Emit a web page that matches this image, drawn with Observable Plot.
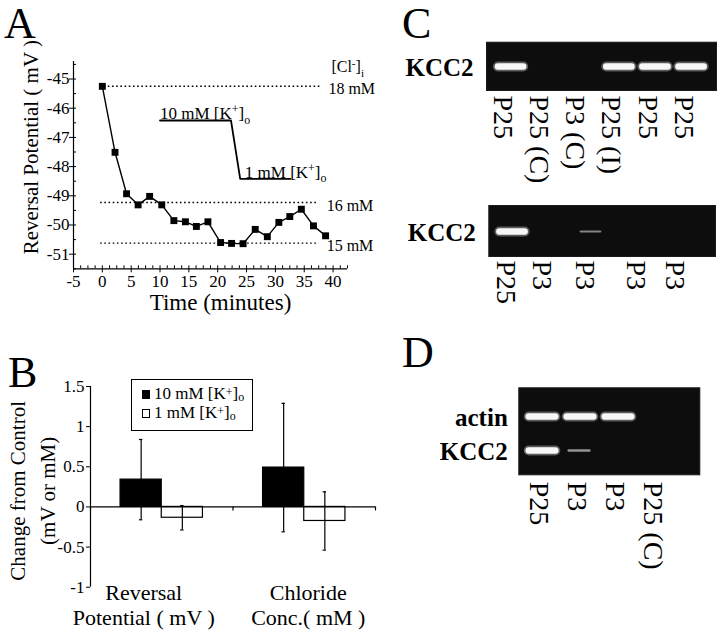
<!DOCTYPE html>
<html><head><meta charset="utf-8">
<script src="https://cdn.jsdelivr.net/npm/d3@7"></script>
<script src="https://cdn.jsdelivr.net/npm/@observablehq/plot@0.6"></script>
<style>
html,body{margin:0;padding:0;background:#fff;}
#fig{position:relative;width:720px;height:635px;overflow:hidden;font-family:"Liberation Serif","Times New Roman",serif;color:#000;background:#fff;}
.letter{position:absolute;font-size:44px;line-height:44px;}
.legend{position:absolute;left:131px;top:379px;width:122px;height:52px;border:1px solid #000;box-sizing:border-box;font-size:17px;line-height:19px;padding:4px 0 0 10px;background:#fff;white-space:nowrap;}
.sw{display:inline-block;width:8px;height:9px;margin-right:4px;box-sizing:border-box;border:1px solid #000;vertical-align:0px;}
.legend sup,.legend sub{font-size:70%;line-height:0;}
.legend sup{vertical-align:3.5px;}
.legend sub{vertical-align:-2px;}
</style></head><body><div id="fig"></div>
<script>
// ---------- Panel A data ----------
const timeMin    = [0, 2.2, 4.2, 6.2, 8.2, 10.3, 12.4, 14.4, 16.3, 18.3, 20.5, 22.4, 24.4, 26.5, 28.6, 30.6, 32.5, 34.5, 36.6, 38.7];
const reversalMv = [-45.25, -47.51, -48.93, -49.31, -49.02, -49.31, -49.85, -49.89, -50.05, -49.89, -50.6, -50.63, -50.64, -50.15, -50.4, -49.91, -49.71, -49.46, -50.03, -50.37];
const clLabels = ["18 mM", "16 mM", "15 mM"];
const clLevels = [-45.25, -49.23, -50.62];
const clStart  = [0.3, -0.3, -0.3];
const clEnd    = [37.8, 37.5, 37.5];
const clHeader = "[Cl^{-}]_{i}";
const kTime  = [10, 22.3, 23.9, 32.6];
const kLevel = [-46.42, -46.42, -48.42, -48.42];
const kLabels     = ["10 mM [K^{+}]_{o}", "1 mM [K^{+}]_{o}"];
const kLabelTime  = [10, 24.7];
const kLabelLevel = [-46.42, -48.42];
const xTicksA = [-5, 0, 5, 10, 15, 20, 25, 30, 35, 40];
const yTicksA = [-51, -50, -49, -48, -47, -46, -45];

// ---------- Panel B data ----------
const groups   = ["Reversal\nPotential ( mV )", "Chloride\nConc.( mM )"];
const seriesB  = ["10 mM [K+]o", "1 mM [K+]o"];
const mean10   = [0.34, 0.49];
const err10    = [0.50, 0.80];
const mean1    = [-0.135, -0.175];
const err1     = [0.152, 0.363];
const yTicksB  = [-1, -0.5, 0, 0.5, 1, 1.5];

// ---------- Panel C / D data (gels) ----------
const c1Labels = ["P25", "P25 (C)", "P3 (C)", "P25 (I)", "P25", "P25"];
const c1Lanes  = [1, 2, 3, 4, 5, 6];
const c1KCC2   = [1, 0, 0, 1, 1, 1];
const c2Labels = ["P25", "P3", "P3", "P3", "P3"];
const c2Lanes  = [1, 2, 3.2, 4.6, 5.7];
const c2KCC2   = [1, 0, 0.3, 0, 0];
const dLabels  = ["P25", "P3", "P3", "P25 (C)"];
const dLanes   = [1, 2, 3, 4];
const dActin   = [1, 1, 1, 0];
const dKCC2    = [1, 0.4, 0, 0];

// ---------- helpers ----------
const fig = document.getElementById("fig");
const FONT = '"Liberation Serif","Times New Roman",serif';
const baseStyle = {fontFamily: FONT, fontSize: "15px", color: "#000", background: "none", overflow: "visible"};

function place(el, left, top) {
  el.style.position = "absolute";
  el.style.left = left + "px";
  el.style.top = top + "px";
  fig.appendChild(el);
  richify(el);
  return el;
}
// turn ^{..} and _{..} into real super/subscript tspans
function richify(root) {
  root.querySelectorAll("text").forEach(t => {
    if (t.children.length) return;
    const s = t.textContent;
    if (!/[\^_]\{/.test(s)) return;
    t.textContent = "";
    const re = /([\^_])\{([^}]*)\}|([^\^_]+)/g;
    let m, cur = 0;
    while ((m = re.exec(s))) {
      const ts = document.createElementNS("http://www.w3.org/2000/svg", "tspan");
      let target = 0, small = false, txt;
      if (m[1]) { small = true; target = m[1] === "^" ? -0.36 : 0.26; txt = m[2]; }
      else txt = m[3];
      const delta = target - cur;
      if (small) ts.setAttribute("font-size", "70%");
      if (delta !== 0) ts.setAttribute("dy", (small ? delta / 0.7 : delta).toFixed(3) + "em");
      ts.textContent = txt;
      t.appendChild(ts);
      cur = target;
    }
  });
}
function letter(ch, left, top) {
  const d = document.createElement("div");
  d.className = "letter"; d.textContent = ch;
  d.style.left = left + "px"; d.style.top = top + "px";
  fig.appendChild(d);
}
const gray = v => { const g = Math.round(80 + 170 * v); return `rgb(${g},${g},${g})`; };

// ---------- Panel A ----------
{
  const W = 400, H = 320, mL = 73, mR = 53, mT = 61, mB = 51.7;
  const fw = W - mL - mR, fh = H - mT - mB;
  const pts = timeMin.map((t, i) => ({t, v: reversalMv[i]}));
  const cl = clLabels.map((l, i) => ({l, y: clLevels[i], x1: clStart[i], x2: clEnd[i]}));
  const kt = kTime.map((t, i) => ({t, v: kLevel[i]}));
  const kl = kLabels.map((l, i) => ({l, t: kLabelTime[i], v: kLabelLevel[i]}));
  const minorX = d3.range(-5, 42.6, 1.25);
  const minorY = d3.range(-51.5, -44.4, 0.5);
  const p = Plot.plot({
    width: W, height: H, marginLeft: mL, marginRight: mR, marginTop: mT, marginBottom: mB,
    style: baseStyle,
    x: {domain: [-5, 42.5]},
    y: {domain: [-51.5, -44.4]},
    marks: [
      Plot.ruleX([-5], {strokeWidth: 1.2}),
      Plot.ruleY([-51.5], {strokeWidth: 1.2}),
      Plot.tickX(minorX, {x: d => d, insetTop: fh - 3, strokeWidth: 1}),
      Plot.tickY(minorY, {y: d => d, insetRight: fw - 3, strokeWidth: 1}),
      Plot.axisX({ticks: xTicksA, tickSize: 4, tickPadding: 2, tickFormat: d => String(d), label: null, fontSize: 17}),
      Plot.axisY({ticks: yTicksA, tickSize: 4, tickPadding: 0, tickFormat: d => String(d), label: null, fontSize: 17}),
      Plot.ruleY(cl, {y: "y", x1: "x1", x2: "x2", strokeDasharray: "1.6 2.6", strokeWidth: 1.4}),
      Plot.text(cl, {x: "x2", y: "y", text: "l", textAnchor: "start", dx: 8, dy: 3, fontSize: 16}),
      Plot.text([clHeader], {x: clEnd[0], y: clLevels[0], text: d => d, textAnchor: "start", dx: 11, dy: -19, fontSize: 16}),
      Plot.line(kt, {x: "t", y: "v", strokeWidth: 1.8}),
      Plot.text(kl, {x: "t", y: "v", text: "l", textAnchor: "start", lineAnchor: "bottom", dy: -1, fontSize: 17}),
      Plot.line(pts, {x: "t", y: "v", strokeWidth: 1.4}),
      Plot.dot(pts, {x: "t", y: "v", symbol: "square", r: 3.9, fill: "black", stroke: "none"}),
      Plot.text(["Time (minutes)"], {frameAnchor: "bottom", text: d => d, textAnchor: "middle", lineAnchor: "middle", dx: 10, dy: 34, fontSize: 23}),
      Plot.text(["Reversal Potential ( mV )"], {frameAnchor: "left", text: d => d, rotate: -90, textAnchor: "middle", lineAnchor: "middle", dx: -42, dy: -18, fontSize: 21})
    ]
  });
  place(p, 0, 0);
}

// ---------- Panel B ----------
{
  const bars = [];
  groups.forEach((g, i) => {
    bars.push({g: i, s: seriesB[0], x1: i - 0.289, x2: i, c: i - 0.1445, m: mean10[i], e: err10[i], fill: "black"});
    bars.push({g: i, s: seriesB[1], x1: i, x2: i + 0.289, c: i + 0.1445, m: mean1[i], e: err1[i], fill: "white"});
  });
  const cats = groups.map((g, i) => ({g, i}));
  const p = Plot.plot({
    width: 380, height: 265, marginLeft: 90, marginRight: 5, marginTop: 16, marginBottom: 48.3,
    style: baseStyle,
    x: {domain: [-0.5, 1.5], axis: null},
    y: {domain: [-1, 1.5]},
    marks: [
      Plot.ruleX([-0.5], {strokeWidth: 1.2}),
      Plot.axisY({ticks: yTicksB, tickSize: 4, tickPadding: 2, tickFormat: d => String(d), label: null, fontSize: 17}),
      Plot.rect(bars, {x1: "x1", x2: "x2", y1: 0, y2: "m", fill: "fill", stroke: "black", strokeWidth: 1.2}),
      Plot.ruleX(bars, {x: "c", y1: d => d.m - d.e, y2: d => d.m + d.e, strokeWidth: 1.2}),
      Plot.ruleY(bars, {y: d => d.m + d.e, x1: d => d.c - 0.012, x2: d => d.c + 0.012, strokeWidth: 1.2}),
      Plot.ruleY(bars, {y: d => d.m - d.e, x1: d => d.c - 0.012, x2: d => d.c + 0.012, strokeWidth: 1.2}),
      Plot.ruleY([0], {strokeWidth: 1.2}),
      Plot.ruleX([-0.5, 0.5, 1.5], {y1: 0, y2: -0.05, strokeWidth: 1.2}),
      Plot.text(cats.slice(0, 1), {x: "i", text: "g", frameAnchor: "bottom", textAnchor: "middle", lineAnchor: "top", dx: -18, dy: -5, fontSize: 22, lineHeight: 1.14}),
      Plot.text(cats.slice(1), {x: "i", text: "g", frameAnchor: "bottom", textAnchor: "middle", lineAnchor: "top", dx: 4, dy: -5, fontSize: 22, lineHeight: 1.14}),
      Plot.text(["Change from Control\n(mV or mM)"], {frameAnchor: "left", text: d => d, rotate: -90, textAnchor: "middle", lineAnchor: "middle", dx: -60, dy: 4, fontSize: 21, lineHeight: 1.4})
    ]
  });
  place(p, 0, 370);
  const lg = document.createElement("div");
  lg.className = "legend";
  lg.innerHTML = `<div><span class="sw" style="background:#000"></span>10 mM [K<sup>+</sup>]<sub>o</sub></div>` +
                 `<div><span class="sw" style="background:#fff"></span>1 mM [K<sup>+</sup>]<sub>o</sub></div>`;
  fig.appendChild(lg);
}

// ---------- Gels ----------
function gel(o) {
  const bright = o.bands.filter(d => d.v >= 0.9);
  const faint = o.bands.filter(d => d.v > 0 && d.v < 0.9);
  const hw = 0.35;
  const p = Plot.plot({
    width: o.width, height: o.height, marginLeft: o.mL, marginRight: o.mR, marginTop: o.mT, marginBottom: o.mB,
    style: baseStyle,
    x: {domain: o.xDomain, axis: null},
    y: Object.assign({type: "point", domain: o.rows, axis: null}, o.yOpts || {padding: 0.5}),
    marks: [
      Plot.frame({fill: "#0d0d0d", stroke: "#1a1a1a"}),
      Plot.ruleY(bright, {y: "row", x1: d => d.lane - hw, x2: d => d.lane + hw, stroke: "#9a9a9a", strokeOpacity: 0.55, strokeWidth: 10, strokeLinecap: "round"}),
      Plot.ruleY(bright, {y: "row", x1: d => d.lane - hw, x2: d => d.lane + hw, stroke: "#f7f7f7", strokeWidth: 6.5, strokeLinecap: "round"}),
      Plot.ruleY(faint, {y: "row", x1: d => d.lane - hw * 0.85, x2: d => d.lane + hw * 0.7, stroke: d => gray(d.v), strokeWidth: d => 1 + 4 * d.v, strokeLinecap: "round"}),
      Plot.text(o.rows, {y: d => d, text: d => d, frameAnchor: "left", textAnchor: "end", lineAnchor: "middle", dx: o.rowDx, dy: 1, fontSize: 25, fontWeight: "bold"}),
      Plot.text(o.lanes, {x: "lane", text: "label", frameAnchor: "bottom", rotate: 90, textAnchor: "start", lineAnchor: "middle", dx: o.labelDx, dy: o.labelDy, fontSize: 28})
    ]
  });
  place(p, o.left, o.top);
}
const mkLanes = (labels, pos) => labels.map((label, i) => ({label, lane: pos[i]}));
const mkBands = (row, pos, vals) => vals.map((v, i) => ({row, lane: pos[i], v}));

gel({left: 400, top: 30, width: 320, height: 170, mL: 86, mR: 4, mT: 11.7, mB: 110,
     xDomain: [0.32, 6.69], rows: ["KCC2"], rowDx: -13,
     bands: mkBands("KCC2", c1Lanes, c1KCC2), lanes: mkLanes(c1Labels, c1Lanes), labelDx: -8, labelDy: 5});
gel({left: 400, top: 195, width: 320, height: 120, mL: 88.3, mR: 5, mT: 10, mB: 59,
     xDomain: [0.343, 6.623], rows: ["KCC2"], rowDx: -13,
     bands: mkBands("KCC2", c2Lanes, c2KCC2), lanes: mkLanes(c2Labels, c2Lanes), labelDx: -7, labelDy: 4});
gel({left: 430, top: 375, width: 290, height: 210, mL: 88.3, mR: 20.7, mT: 12.3, mB: 110.7,
     xDomain: [0.376, 5.139], rows: ["actin", "KCC2"], yOpts: {padding: 0.754, align: 0.549}, rowDx: -11,
     bands: mkBands("actin", dLanes, dActin).concat(mkBands("KCC2", dLanes, dKCC2)),
     lanes: mkLanes(dLabels, dLanes), labelDx: -4, labelDy: 7});

// ---------- Panel letters ----------
letter("A", 4, 2.4);
letter("B", 8, 351.2);
letter("C", 402, 2.4);
letter("D", 402, 331.2);
</script></body></html>
